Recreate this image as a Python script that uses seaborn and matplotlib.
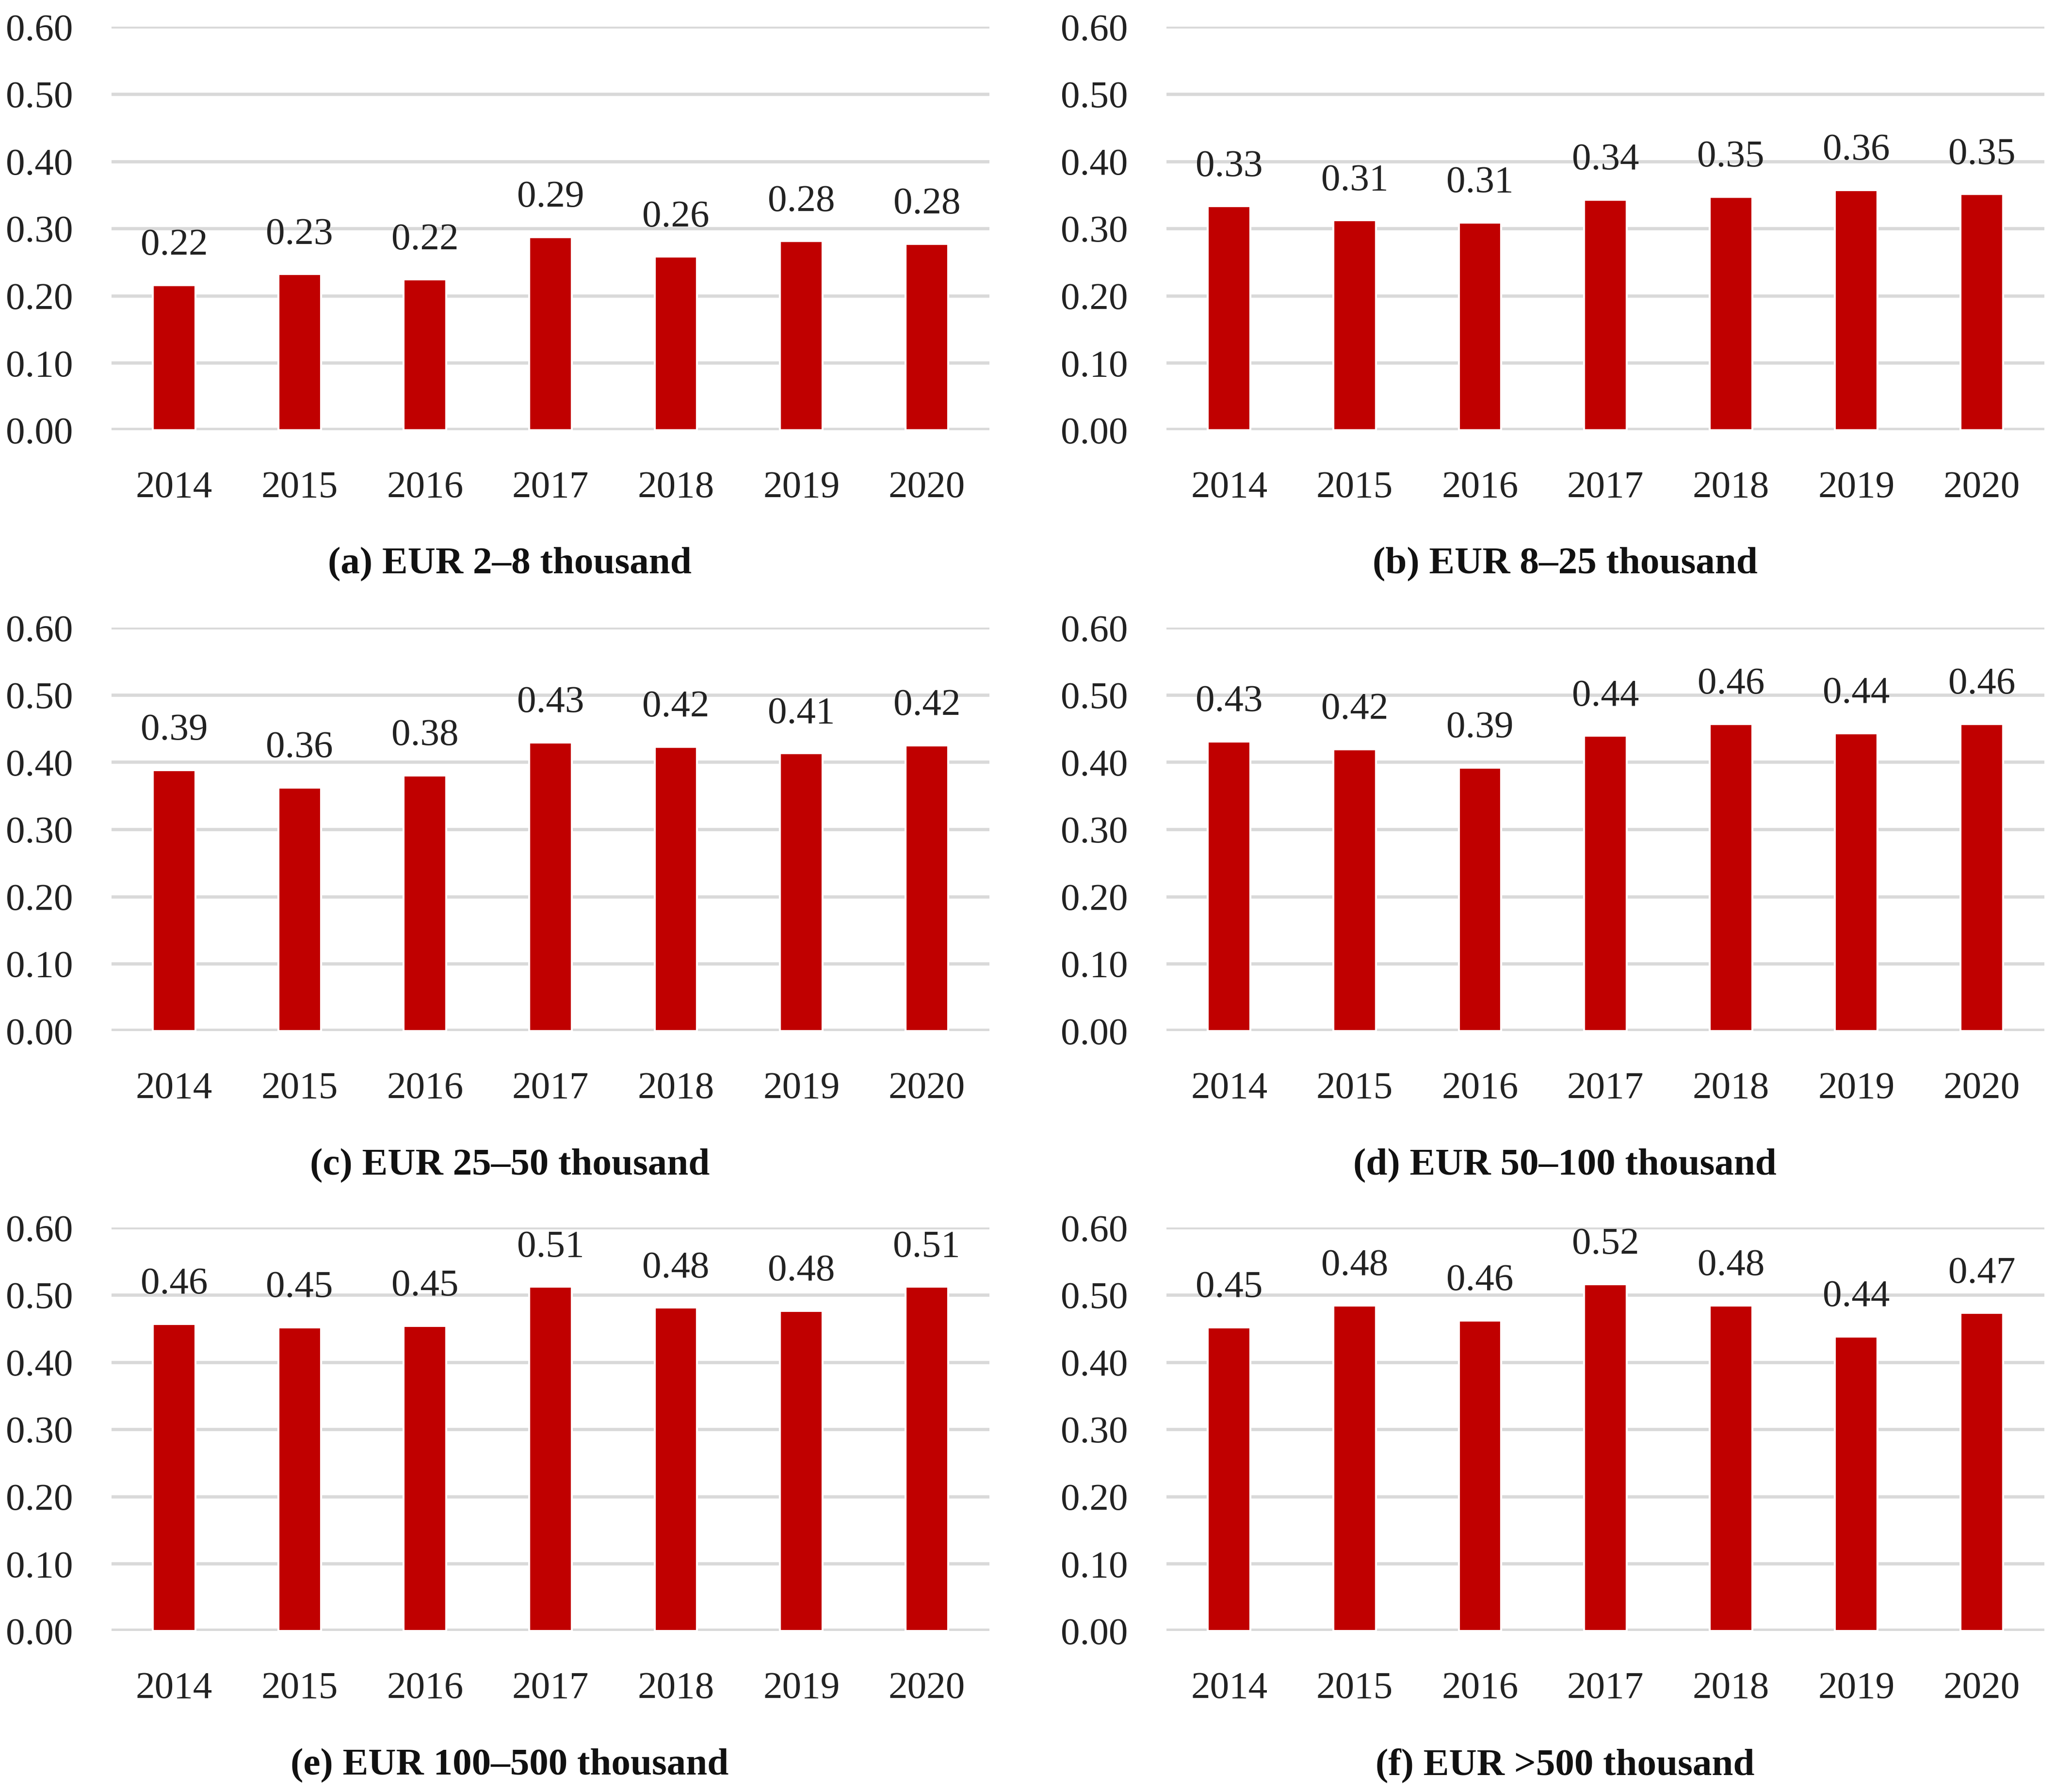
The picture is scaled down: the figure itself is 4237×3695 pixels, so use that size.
import seaborn as sns
from matplotlib import pyplot as plt
from matplotlib.ticker import FormatStrFormatter

years = ['2014', '2015', '2016', '2017', '2018', '2019', '2020']

values_a = [0.216, 0.232, 0.224, 0.287, 0.258, 0.281, 0.277]
values_b = [0.333, 0.312, 0.309, 0.343, 0.347, 0.357, 0.351]
values_c = [0.388, 0.362, 0.380, 0.429, 0.423, 0.413, 0.425]
values_d = [0.431, 0.419, 0.392, 0.439, 0.457, 0.443, 0.457]
values_e = [0.457, 0.452, 0.454, 0.512, 0.481, 0.476, 0.512]
values_f = [0.452, 0.484, 0.462, 0.516, 0.484, 0.438, 0.473]

captions = [
    ('(a)', 'EUR 2\u20138 thousand'),
    ('(b)', 'EUR 8\u201325 thousand'),
    ('(c)', 'EUR 25\u201350 thousand'),
    ('(d)', 'EUR 50\u2013100 thousand'),
    ('(e)', 'EUR 100\u2013500 thousand'),
    ('(f)', 'EUR >500 thousand'),
]

y_ticks = [0.0, 0.1, 0.2, 0.3, 0.4, 0.5, 0.6]

BAR_COLOR = '#C00000'
GRID_COLOR = '#D9D9D9'

sns.set_theme(style='white')
plt.rcParams['font.family'] = ['Liberation Serif', 'DejaVu Serif']
plt.rcParams['font.size'] = 19

fig = plt.figure(figsize=(4237 / 300, 3695 / 300), dpi=300)

# axes boxes in figure fractions: [left, bottom, width, height]
col_left = [0.0542, 0.5676]
col_width = 0.4273
row_bottom = [0.760, 0.4247, 0.0899]
row_height = 0.225
caption_x = [0.248, 0.7615]
caption_y = [0.685, 0.3496, 0.0148]

all_values = [values_a, values_b, values_c, values_d, values_e, values_f]

for i, values in enumerate(all_values):
    row, col = divmod(i, 2)
    ax = fig.add_axes([col_left[col], row_bottom[row], col_width, row_height])
    sns.barplot(x=years, y=values, color=BAR_COLOR, saturation=1, width=0.34, ax=ax, zorder=3)
    ax.bar_label(ax.containers[0], fmt='%.2f', padding=11, fontsize=19, color='#222222')

    ax.set_ylim(0, 0.6)
    ax.set_xlim(-0.5, 6.5)
    ax.set_yticks(y_ticks)
    ax.yaxis.set_major_formatter(FormatStrFormatter('%.2f'))
    ax.yaxis.grid(True, color=GRID_COLOR, linewidth=1.6, zorder=0)
    ax.set_axisbelow(True)
    ax.axhline(0, color=GRID_COLOR, linewidth=2.6, zorder=2)
    ax.tick_params(axis='both', length=0, labelsize=19, colors='#222222')
    ax.tick_params(axis='y', pad=19)
    ax.tick_params(axis='x', pad=20)
    ax.set_xlabel('')
    ax.set_ylabel('')
    sns.despine(ax=ax, top=True, right=True, left=True, bottom=True)

    label, text = captions[i]
    fig.text(caption_x[col], caption_y[row], label + ' ' + text,
             ha='center', va='center', fontsize=19, fontweight='bold', color='#111111')

plt.savefig('out.png', dpi=300)
